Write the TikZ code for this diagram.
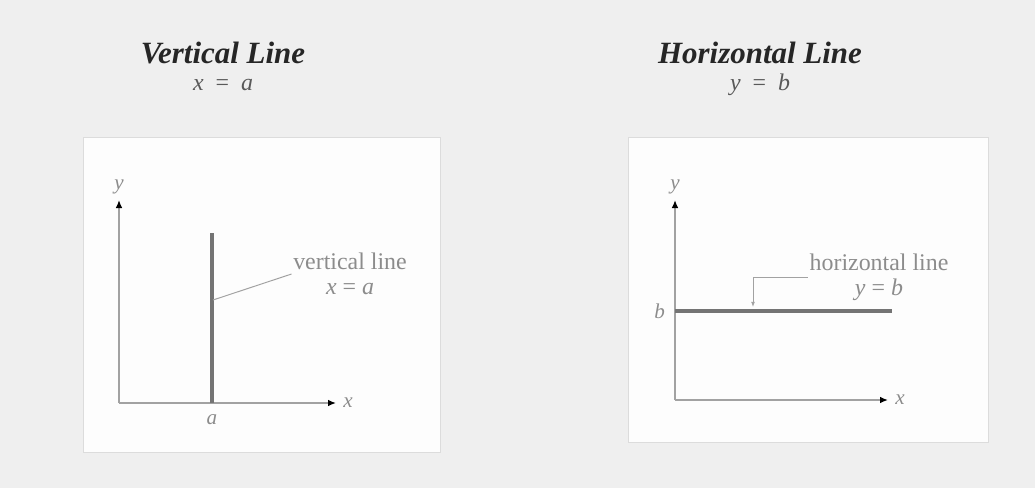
\documentclass[tikz,border=0pt]{standalone}
\usepackage{fontspec}
\setmainfont{Liberation Serif}
\usetikzlibrary{arrows.meta,positioning}
\definecolor{cbg}{HTML}{EFEFEF}
\definecolor{cpanel}{HTML}{FDFDFD}
\definecolor{caxis}{HTML}{A2A2A2}
\definecolor{cline}{HTML}{747474}
\definecolor{clabel}{HTML}{8C8C8C}
\newcommand{\var}[1]{\textit{#1}}
\begin{document}
\begin{tikzpicture}[x=0.025cm,y=-0.025cm,
  panel/.style={fill=cpanel,draw=cbg!92!black,line width=0.5pt},
  title/.style={font=\fontsize{22}{24}\selectfont\bfseries\itshape,text=black!85,inner sep=0pt},
  eqn/.style={font=\fontsize{17}{19}\selectfont,text=black!65,inner sep=0pt},
  lab/.style={font=\fontsize{17}{18}\selectfont,text=clabel,inner sep=1pt,align=center},
  axlab/.style={font=\fontsize{15}{16}\selectfont\itshape,text=clabel,inner sep=1pt},
  axis/.style={-{Latex[length=2mm,width=1.7mm,color=black]},line width=1.4pt,caxis},
  graph/.style={line width=2.3pt,cline},
  lead/.style={line width=0.7pt,caxis}]
  % background and panels
  \fill[cbg] (0,0) rectangle (1035,488);
  \draw[panel] (83,137) rectangle (440,452);
  \draw[panel] (628,137) rectangle (988,442);
  % titles
  \node[title] (vtitle) at (223,53) {Vertical Line};
  \node[eqn] (veq) at (223,85) {\var{x}\ \ =\ \ \var{a}};
  \node[title] (htitle) at (760,53) {Horizontal Line};
  \node[eqn] (heq) at (760,85) {\var{y}\ \ =\ \ \var{b}};
  % vertical line x = a
  \coordinate (vo) at (119,403);
  \coordinate (vy) at (119,200);
  \coordinate (vx) at (336,403);
  \draw[axis] (vo) -- (vy);
  \draw[axis] (vo) -- (vx);
  \node[axlab,above=3pt of vy] (vylab) {y};
  \node[axlab,right=4pt of vx] (vxlab) {x};
  \coordinate (va) at (212,403);
  \coordinate (vtop) at (212,233);
  \draw[graph] (va) -- (vtop);
  \node[axlab,below=7pt of va] (valab) {a};
  \node[lab] (vlab) at (350,274) {vertical line\\\var{x} = \var{a}};
  \coordinate (vp) at (213,300);
  \draw[lead] (vp) -- (vlab.west);
  % horizontal line y = b
  \coordinate (ho) at (675,400);
  \coordinate (hy) at (675,200);
  \coordinate (hx) at (888,400);
  \draw[axis] (ho) -- (hy);
  \draw[axis] (ho) -- (hx);
  \node[axlab,above=3pt of hy] (hylab) {y};
  \node[axlab,right=4pt of hx] (hxlab) {x};
  \coordinate (hb) at (675,311);
  \coordinate (hend) at (892,311);
  \draw[graph] (hb) -- (hend);
  \node[axlab,left=6pt of hb] (hblab) {b};
  \node[lab] (hlab) at (879,277) {horizontal line\\\var{y} = \var{b}};
  \coordinate (hp) at (753,307);
  \draw[lead,-{Latex[length=1.3mm,width=1mm]}] (hlab.west) -| (hp);
\end{tikzpicture}
\end{document}
